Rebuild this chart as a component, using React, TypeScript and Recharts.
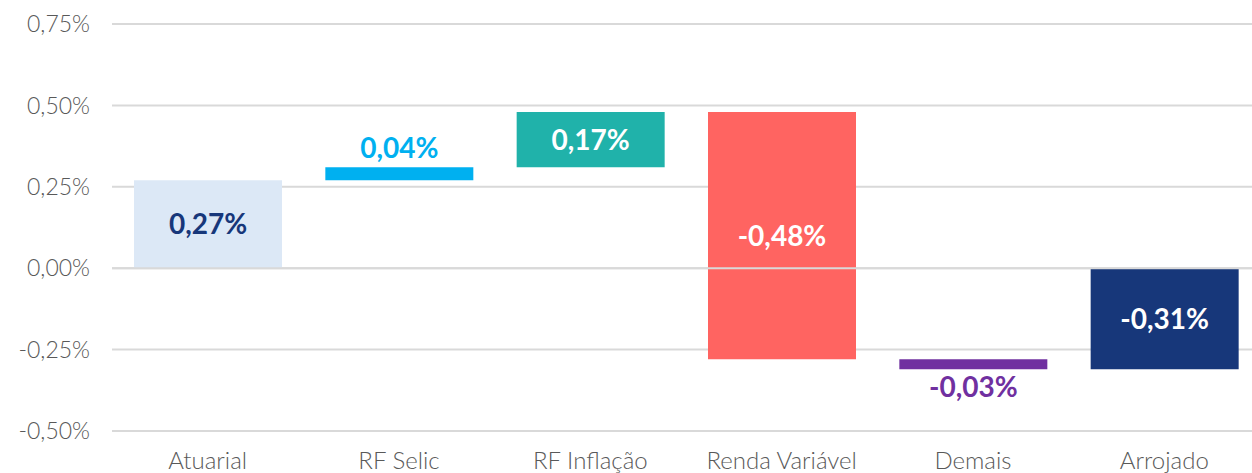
import { BarChart, Bar, XAxis, YAxis, CartesianGrid, Cell, LabelList, ReferenceLine } from "recharts";

const categories = ["Atuarial", "RF Selic", "RF Inflação", "Renda Variável", "Demais", "Arrojado"];
const barFrom = [0, 0.27, 0.31, 0.48, -0.28, 0];
const barTo = [0.27, 0.31, 0.48, -0.28, -0.31, -0.31];
const valueLabels = ["0,27%", "0,04%", "0,17%", "-0,48%", "-0,03%", "-0,31%"];
const yTicks = [-0.5, -0.25, 0, 0.25, 0.5, 0.75];

const COLORS = ["#dce8f6", "#00b0f0", "#20b2aa", "#ff6461", "#7030a0", "#17377a"];
const LABEL_COLORS = ["#17377a", "#00b0f0", "#ffffff", "#ffffff", "#7030a0", "#ffffff"];
const LABEL_POS = ["inside", "top", "inside", "inside", "bottom", "inside"];

const FONT = "Lato, 'Open Sans', sans-serif";

const data = categories.map((name, i) => ({
  name,
  range: [Math.min(barFrom[i], barTo[i]), Math.max(barFrom[i], barTo[i])],
}));

const fmtTick = (v: number) => v.toFixed(2).replace(".", ",") + "%";

const ValueLabel = (props: any) => {
  const { x, y, width, height, index } = props;
  const top = Math.min(y, y + height);
  const h = Math.abs(height);
  const pos = LABEL_POS[index];
  let ty = top + h / 2;
  if (pos === "top") ty = top - 19;
  if (pos === "bottom") ty = top + h + 18;
  return (
    <text
      x={x + width / 2}
      y={ty}
      dy="0.36em"
      textAnchor="middle"
      fill={LABEL_COLORS[index]}
      fontFamily={FONT}
      fontWeight={700}
      fontSize={28}
    >
      {valueLabels[index]}
    </text>
  );
};

export default function App() {
  // the original plot runs a few px past the right edge, so clip it
  return (
    <div style={{ position: "absolute", left: 0, top: 0, width: 1252, height: 473, overflow: "hidden", background: "#fff" }}>
      <BarChart
        width={1260}
        height={473}
        data={data}
        margin={{ top: 24, right: 0, bottom: 0, left: 0 }}
        barSize={148}
      >
        <CartesianGrid vertical={false} stroke="#d9d9d9" strokeWidth={2} />
        <XAxis
          dataKey="name"
          axisLine={false}
          tickLine={false}
          tickSize={0}
          tickMargin={21}
          height={42}
          interval={0}
          tick={{ fill: "#595959", fontSize: 24, fontWeight: 300, fontFamily: FONT }}
        />
        <YAxis
          type="number"
          domain={[-0.5, 0.75]}
          ticks={yTicks}
          tickFormatter={fmtTick}
          axisLine={false}
          tickLine={false}
          tickSize={0}
          tickMargin={22}
          width={112}
          tick={{ fill: "#595959", fontSize: 23, fontWeight: 300, fontFamily: FONT }}
        />
        <Bar dataKey="range" isAnimationActive={false}>
          {data.map((d, i) => (
            <Cell key={d.name} fill={COLORS[i]} />
          ))}
          <LabelList dataKey="range" content={<ValueLabel />} />
        </Bar>
        <ReferenceLine y={0} stroke="#d9d9d9" strokeWidth={2} ifOverflow="extendDomain" />
      </BarChart>
    </div>
  );
}
